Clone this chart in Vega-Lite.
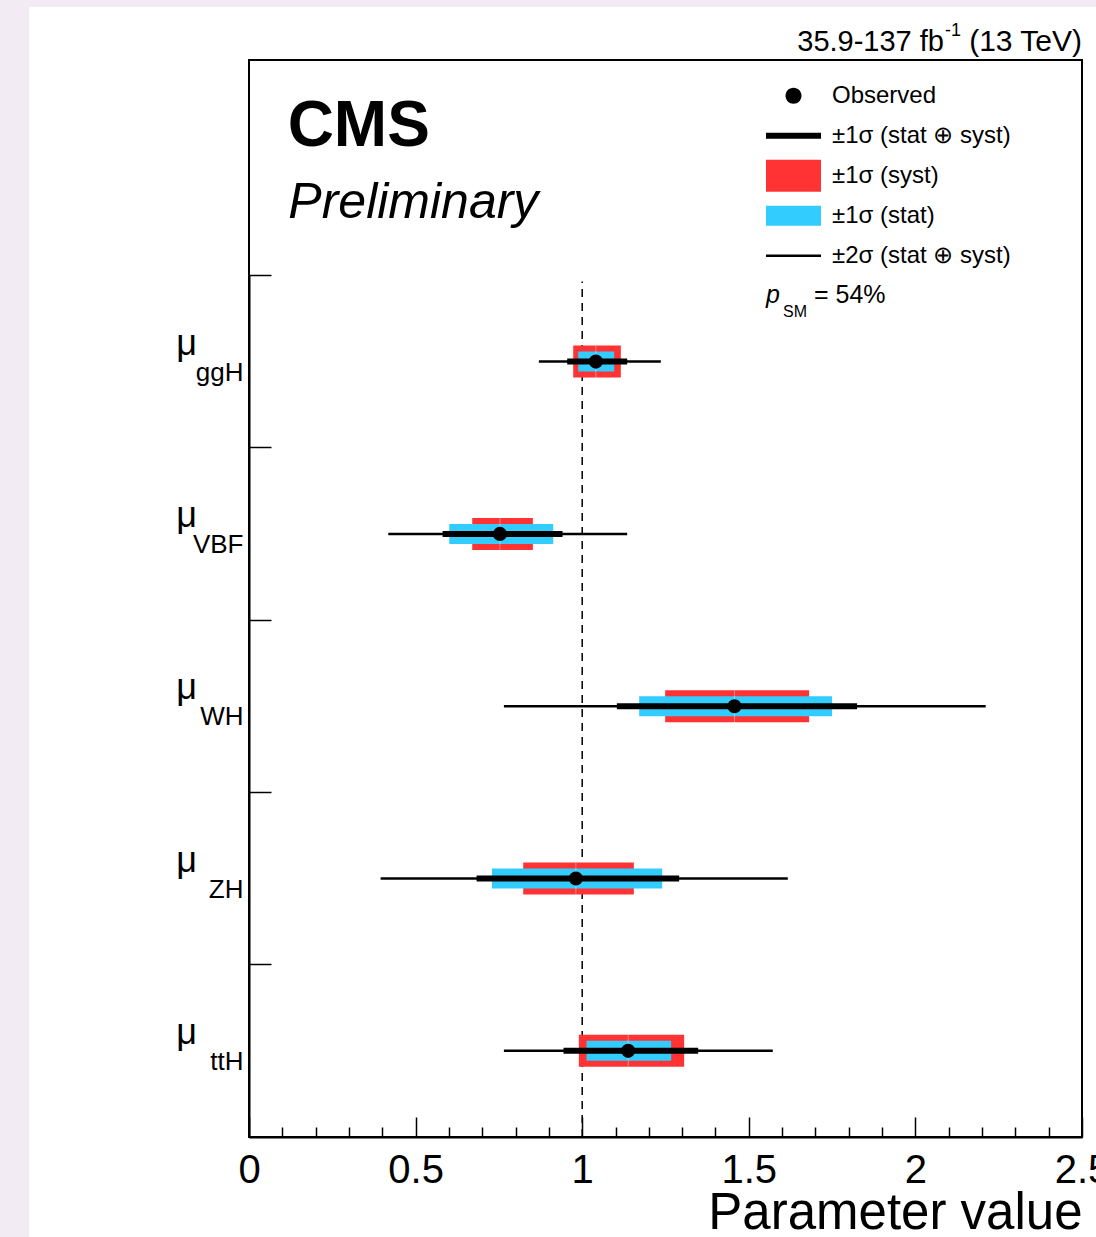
{
  "$schema": "https://vega.github.io/schema/vega-lite/v6.json",
  "width": 833,
  "height": 1077,
  "autosize": {"type": "none"},
  "padding": {"left": 249, "top": 60, "right": 14, "bottom": 100},
  "background": "white",
  "config": {
    "font": "Liberation Sans",
    "view": {"stroke": "black", "strokeWidth": 2, "fill": "white"}
  },
  "resolve": {"scale": {"y": "independent"}, "axis": {"y": "independent"}},
  "layer": [
    {
      "data": {"values": [{}]},
      "layer": [
        {
          "mark": {"type": "rect", "color": "#f2ebf4", "clip": false},
          "encoding": {
            "x": {"datum": -1, "type": "quantitative", "scale": {"domain": [0, 2.5], "nice": false, "zero": false}},
            "x2": {"datum": -0.66026},
            "y": {"datum": -1, "type": "quantitative", "scale": {"domain": [0, 6.25], "nice": false, "zero": false}, "axis": null},
            "y2": {"datum": 8}
          }
        },
        {
          "mark": {"type": "rect", "color": "#f2ebf4", "clip": false},
          "encoding": {
            "x": {"datum": -1, "type": "quantitative"},
            "x2": {"datum": 3},
            "y": {"datum": 6.5576, "type": "quantitative", "axis": null},
            "y2": {"datum": 8}
          }
        },
        {
          "mark": {"type": "rule", "color": "black", "strokeWidth": 1.5, "strokeDash": [8, 6]},
          "encoding": {
            "x": {"datum": 1, "type": "quantitative"},
            "y": {"datum": 0, "type": "quantitative", "axis": null},
            "y2": {"datum": 4.965}
          }
        },
        {
          "mark": {"type": "text", "text": "CMS", "fontSize": 64, "fontWeight": "bold", "align": "left", "baseline": "alphabetic", "color": "black"},
          "encoding": {
            "x": {"datum": 0.116, "type": "quantitative"},
            "y": {"datum": 5.751, "type": "quantitative", "axis": null}
          }
        },
        {
          "mark": {"type": "text", "text": "Preliminary", "fontSize": 50, "fontStyle": "italic", "align": "left", "baseline": "alphabetic", "color": "black"},
          "encoding": {
            "x": {"datum": 0.118, "type": "quantitative"},
            "y": {"datum": 5.333, "type": "quantitative", "axis": null}
          }
        },
        {
          "mark": {"type": "text", "text": "p", "fontSize": 25, "fontStyle": "italic", "align": "left", "baseline": "alphabetic", "color": "black"},
          "encoding": {
            "x": {"datum": 1.5516, "type": "quantitative"},
            "y": {"datum": 4.84, "type": "quantitative", "axis": null}
          }
        },
        {
          "mark": {"type": "text", "text": "SM", "fontSize": 16, "align": "left", "baseline": "alphabetic", "color": "black"},
          "encoding": {
            "x": {"datum": 1.6026, "type": "quantitative"},
            "y": {"datum": 4.758, "type": "quantitative", "axis": null}
          }
        },
        {
          "mark": {"type": "text", "text": "= 54%", "fontSize": 25, "align": "left", "baseline": "alphabetic", "color": "black"},
          "encoding": {
            "x": {"datum": 1.6957, "type": "quantitative"},
            "y": {"datum": 4.84, "type": "quantitative", "axis": null}
          }
        },
        {
          "mark": {"type": "text", "text": "35.9-137 fb", "fontSize": 29, "align": "right", "baseline": "alphabetic", "color": "black"},
          "encoding": {
            "x": {"datum": 2.0858, "type": "quantitative"},
            "y": {"datum": 6.3022, "type": "quantitative", "axis": null}
          }
        },
        {
          "mark": {"type": "text", "text": "-1", "fontSize": 18, "align": "left", "baseline": "alphabetic", "color": "black"},
          "encoding": {
            "x": {"datum": 2.0888, "type": "quantitative"},
            "y": {"datum": 6.3893, "type": "quantitative", "axis": null}
          }
        },
        {
          "mark": {"type": "text", "text": "(13 TeV)", "fontSize": 30, "align": "right", "baseline": "alphabetic", "color": "black"},
          "encoding": {
            "x": {"datum": 2.5, "type": "quantitative"},
            "y": {"datum": 6.3022, "type": "quantitative", "axis": null}
          }
        }
      ]
    },
    {
      "data": {
        "values": [
          {"param": "ggH", "obs": 1.041, "stat_lo": 0.988, "stat_hi": 1.096, "syst_lo": 0.973, "syst_hi": 1.116, "lo68": 0.955, "hi68": 1.135, "lo95": 0.870, "hi95": 1.236},
          {"param": "VBF", "obs": 0.753, "stat_lo": 0.601, "stat_hi": 0.913, "syst_lo": 0.670, "syst_hi": 0.852, "lo68": 0.581, "hi68": 0.941, "lo95": 0.418, "hi95": 1.135},
          {"param": "WH", "obs": 1.457, "stat_lo": 1.171, "stat_hi": 1.750, "syst_lo": 1.249, "syst_hi": 1.681, "lo68": 1.104, "hi68": 1.825, "lo95": 0.765, "hi95": 2.211},
          {"param": "ZH", "obs": 0.981, "stat_lo": 0.729, "stat_hi": 1.240, "syst_lo": 0.823, "syst_hi": 1.155, "lo68": 0.683, "hi68": 1.291, "lo95": 0.395, "hi95": 1.617},
          {"param": "ttH", "obs": 1.138, "stat_lo": 1.013, "stat_hi": 1.267, "syst_lo": 0.990, "syst_hi": 1.306, "lo68": 0.944, "hi68": 1.348, "lo95": 0.765, "hi95": 1.572}
        ]
      },
      "layer": [
        {
          "mark": {"type": "bar", "size": 32},
          "encoding": {
            "x": {
              "field": "syst_lo", "type": "quantitative", "title": "Parameter value",
              "scale": {"domain": [0, 2.5], "nice": false, "zero": false},
              "axis": {
                "values": [0, 0.1, 0.2, 0.3, 0.4, 0.5, 0.6, 0.7, 0.8, 0.9, 1, 1.1, 1.2, 1.3, 1.4, 1.5, 1.6, 1.7, 1.8, 1.9, 2, 2.1, 2.2, 2.3, 2.4, 2.5],
                "tickCount": 100,
                "tickSize": {"condition": {"test": "abs(datum.value*2 - round(datum.value*2)) < 0.001", "value": -20}, "value": -10},
                "labelExpr": "abs(datum.value*2 - round(datum.value*2)) < 0.001 ? format(datum.value, '~g') : ''",
                "labelFontSize": 40,
                "labelColor": "black",
                "labelPadding": 33,
                "labelFlush": false,
                "labelOverlap": false,
                "domainColor": "black",
                "domainWidth": 2,
                "tickColor": "black",
                "tickWidth": 1.5,
                "grid": false,
                "titleFontSize": 51,
                "titleFontWeight": "normal",
                "titleColor": "black",
                "titleAnchor": "end",
                "titlePadding": -12,
                "zindex": 1
              }
            },
            "x2": {"field": "syst_hi"},
            "y": {
              "field": "param", "type": "nominal",
              "scale": {"type": "band", "domain": ["ggH", "VBF", "WH", "ZH", "ttH"], "range": [215.4, 1077], "paddingInner": 0, "paddingOuter": 0},
              "axis": {
                "bandPosition": 0,
                "tickSize": -22,
                "tickColor": "black",
                "tickWidth": 1.5,
                "domainColor": "black",
                "domainWidth": 2,
                "labelFontSize": 26,
                "labelColor": "black",
                "labelPadding": 28,
                "labelOffset": 19,
                "labelAlign": "right",
                "labelBaseline": "alphabetic",
                "labelOverlap": false,
                "title": null,
                "grid": false,
                "zindex": 1
              }
            },
            "color": {
              "datum": "±1σ (syst)",
              "type": "nominal",
              "scale": {
                "domain": ["Observed", "±1σ (stat ⊕ syst)", "±1σ (syst)", "±1σ (stat)", "±2σ (stat ⊕ syst)"],
                "range": ["black", "black", "#ff3333", "#33ccff", "black"]
              },
              "legend": {
                "orient": "none",
                "legendX": 517,
                "legendY": 16,
                "title": null,
                "padding": 0,
                "rowPadding": 0,
                "clipHeight": 39.6,
                "symbolSize": 3025,
                "labelFontSize": 24,
                "labelColor": "black",
                "labelOffset": 11,
                "labelLimit": 400,
                "encode": {
                  "symbols": {
                    "update": {
                      "shape": {"signal": "datum.index === 0 ? 'M-0.291,0A0.291,0.291,0,1,0,0.291,0A0.291,0.291,0,1,0,-0.291,0Z' : datum.index === 1 ? 'M-1,-0.109H1V0.109H-1Z' : datum.index === 2 ? 'M-1,-0.582H1V0.582H-1Z' : datum.index === 3 ? 'M-1,-0.364H1V0.364H-1Z' : 'M-1,-0.045H1V0.045H-1Z'"},
                      "fill": {"signal": "datum.index === 2 ? '#ff3333' : datum.index === 3 ? '#33ccff' : 'black'"},
                      "stroke": {"value": "transparent"},
                      "strokeWidth": {"value": 0},
                      "opacity": {"value": 1},
                      "fillOpacity": {"value": 1},
                      "size": {"value": 3025}
                    }
                  }
                }
              }
            }
          }
        },
        {
          "mark": {"type": "bar", "size": 20},
          "encoding": {
            "x": {"field": "stat_lo", "type": "quantitative", "title": "Parameter value"},
            "x2": {"field": "stat_hi"},
            "y": {"field": "param", "type": "nominal"},
            "color": {"datum": "±1σ (stat)", "type": "nominal"}
          }
        },
        {
          "mark": {"type": "tick", "orient": "vertical", "thickness": 1, "size": 32, "color": "white", "opacity": 0.4},
          "encoding": {
            "x": {"field": "obs", "type": "quantitative", "title": "Parameter value"},
            "y": {"field": "param", "type": "nominal"}
          }
        },
        {
          "mark": {"type": "rule", "strokeWidth": 2.5},
          "encoding": {
            "x": {"field": "lo95", "type": "quantitative", "title": "Parameter value"},
            "x2": {"field": "hi95"},
            "y": {"field": "param", "type": "nominal"},
            "color": {"datum": "±2σ (stat ⊕ syst)", "type": "nominal"}
          }
        },
        {
          "mark": {"type": "rule", "strokeWidth": 6},
          "encoding": {
            "x": {"field": "lo68", "type": "quantitative", "title": "Parameter value"},
            "x2": {"field": "hi68"},
            "y": {"field": "param", "type": "nominal"},
            "color": {"datum": "±1σ (stat ⊕ syst)", "type": "nominal"}
          }
        },
        {
          "mark": {"type": "point", "filled": true, "size": 200, "opacity": 1},
          "encoding": {
            "x": {"field": "obs", "type": "quantitative", "title": "Parameter value"},
            "y": {"field": "param", "type": "nominal"},
            "color": {"datum": "Observed", "type": "nominal"}
          }
        },
        {
          "mark": {"type": "text", "text": "μ", "fontSize": 36, "align": "right", "baseline": "alphabetic", "dx": -52, "dy": -7, "color": "black"},
          "encoding": {
            "x": {"datum": 0, "type": "quantitative"},
            "y": {"field": "param", "type": "nominal"}
          }
        }
      ]
    }
  ]
}
